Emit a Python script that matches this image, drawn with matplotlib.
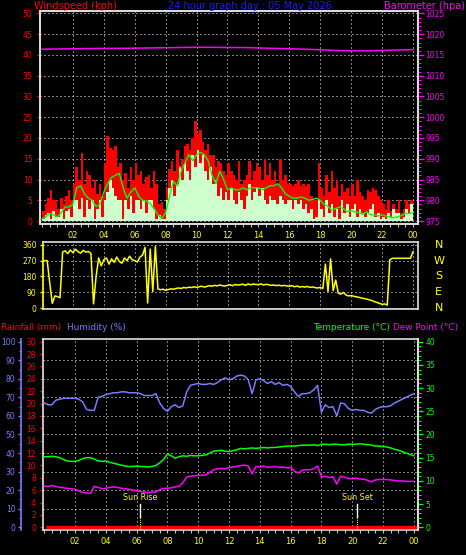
import numpy as np
import matplotlib
matplotlib.use("Agg")
import matplotlib.pyplot as plt
from matplotlib.ticker import MultipleLocator, FixedLocator

plt.rcParams['font.family'] = ['DejaVu Sans']

# ---------------- data ----------------
title_text = "24 hour graph day : 05 May 2026"
hour_ticks = [2, 4, 6, 8, 10, 12, 14, 16, 18, 20, 22, 24]
hour_labels = ["02", "04", "06", "08", "10", "12", "14", "16", "18", "20", "22", "00"]

wind_step_min = 10
wind_gust = [2.5, 4, 5.5, 7.5, 5, 5,
             3, 5.5, 4, 6, 7.5, 5,
             9, 13, 10, 16.5, 9, 12,
             11, 8, 10, 6.5, 9, 6,
             14, 20.5, 17.5, 17, 18, 13,
             14, 10, 11.5, 8, 13, 10,
             14, 11, 12, 9, 10.5, 11,
             8, 12, 9, 4, 4.5, 3,
             8, 12.5, 14.5, 12, 17, 13.5,
             15, 18, 18.5, 17, 20, 24,
             21, 22, 19, 17, 18.5, 16,
             16, 13, 14.5, 14, 12, 11,
             14, 12, 11, 10, 14.5, 9,
             10, 11, 14.5, 10, 12, 14,
             13, 10, 15, 11, 14, 10,
             12, 9, 15, 10, 11, 9,
             9, 8.5, 9, 10, 8.5, 9,
             8.5, 9, 6, 5, 5, 14,
             8, 6, 11, 7, 12, 8,
             10, 6, 9, 7, 8, 6,
             9, 6, 10, 7, 6, 5,
             7.5, 7, 8, 7.5, 6, 5,
             4, 3, 5, 2.5, 4, 3,
             5, 2, 3, 5, 4, 5]
wind_avg = [0.5, 1.5, 2, 0.5, 2.5, 1,
            1, 3, 0.5, 2.5, 3, 1,
            5, 5, 3, 5.5, 1, 5,
            3, 5, 0.5, 3, 5, 1,
            5, 7, 10, 8, 6, 5,
            5, 0.5, 5, 3, 6, 2,
            5, 5, 3, 5, 2, 5,
            5, 3, 0.5, 1.5, 0.5, 0.5,
            5, 8, 10, 6, 9, 13,
            10, 14, 12, 10, 16, 13,
            17, 14, 16, 12, 10, 13,
            9, 10, 6, 8, 5, 7,
            5, 8, 5, 4, 7, 5,
            3, 6, 9, 5, 7, 8,
            6, 8, 5, 4, 6, 5,
            5, 4, 6, 5, 4, 5,
            5, 3, 5, 4, 5, 3,
            4, 2, 3, 0.5, 1, 5,
            3, 1, 5, 2, 4, 1,
            3, 0.5, 5, 2, 4, 1,
            3, 4, 1, 3, 2, 1,
            2, 3, 4, 1, 2, 0.5,
            1, 0.5, 2, 1, 3, 2,
            2, 0.5, 1, 3, 2, 4]
trend_step_min = 15
wind_trend = [0.5, 1, 1.8, 1.5,
              1, 2, 3.4, 3.4,
              4, 8, 8.5, 6.5,
              5.5, 5, 3.5, 4,
              7, 9, 10.5, 11,
              11.5, 8, 5.5, 7,
              8, 6, 5, 4.8,
              4.2, 3, 1.5, 0.6,
              2, 6, 9.5, 8.5,
              12, 14, 16, 14.5,
              16, 16.5, 16, 14.5,
              11, 9, 12, 10,
              7.5, 8, 7.5, 7.5,
              8, 7.5, 8, 8,
              8, 7.5, 8, 8.5,
              8.5, 9, 8, 6.5,
              6, 5.5, 5.5, 5.8,
              5.5, 5, 5.2, 5.5,
              5, 4, 3.5, 2.6,
              3, 3.4, 3, 2.2,
              2.5, 2.2, 2, 1.6,
              2.2, 1.5, 1.5, 1.2,
              1.5, 1.2, 1, 0.8,
              1, 1.3, 1.8, 1.8,
              2.0]
baro_hours = [0, 1, 2, 3, 4, 5, 6, 7, 8, 9, 10, 11, 12,
              13, 14, 15, 16, 17, 18, 19, 20, 21, 22, 23, 24]
baro_hpa = [1016.4, 1016.45, 1016.5, 1016.55, 1016.6, 1016.6, 1016.65, 1016.7,
            1016.75, 1016.8, 1016.85, 1016.85, 1016.8, 1016.8, 1016.7, 1016.6,
            1016.5, 1016.4, 1016.25, 1016.1, 1016.0, 1016.0, 1016.1, 1016.2, 1016.3]

dir_step_min = 10
wind_dir = [270, 270, 270, 145, 28, 70,
            66, 60, 318, 325, 310, 330,
            315, 335, 320, 312, 328, 318,
            322, 310, 25, 180, 285, 240,
            275, 285, 250, 280, 260, 290,
            265, 255, 285, 270, 295, 275,
            270, 262, 290, 300, 345, 30,
            335, 95, 350, 110, 105, 108,
            102, 106, 110, 108, 112, 115,
            112, 118, 115, 120, 117, 122,
            118, 122, 125, 120, 124, 128,
            125, 130, 127, 132, 128, 126,
            130, 133, 128, 135, 131, 134,
            136, 130, 138, 133, 137, 135,
            134, 138, 132, 136, 133, 130,
            132, 128, 131, 127, 130, 126,
            125, 128, 122, 126, 120, 123,
            120, 124, 118, 121, 117, 115,
            118, 112, 250, 95, 280, 100,
            160, 85, 80, 90, 75, 70,
            72, 68, 65, 62, 58, 55,
            52, 48, 44, 38, 33, 28,
            22, 25, 18, 275, 283, 283,
            283, 283, 283, 283, 283, 283,
            320]
compass_labels = ["N", "W", "S", "E", "N"]
compass_deg = [360, 270, 180, 90, 0]

thp_step_min = 15
humidity = [67, 66, 66, 68.5,
            69, 69.5, 69.5, 69.5,
            69.5, 69, 67.5, 63.5,
            63, 63, 70, 70.5,
            71.5, 72, 72.5, 72.5,
            73, 73, 72.5, 72.5,
            72.5, 72, 71, 71,
            71, 72, 67, 64,
            62.5, 65, 66, 64.5,
            65.5, 73, 76.5, 77,
            77.5, 77, 77, 77.5,
            77, 78, 79.5, 80.5,
            79.5, 80, 81.5, 82,
            81.5, 79.5, 72, 79.5,
            80, 79, 77.5, 78.5,
            77, 78, 76.5, 77,
            76, 73, 70.5, 72,
            72, 72.5, 74, 76.5,
            62, 66, 64.5, 65,
            60, 67, 66.5, 64,
            63, 63.5, 63, 63,
            62, 61.5, 63.5, 64.5,
            65, 65, 65.5, 67,
            68, 69, 70, 71,
            72]
temperature = [15.2, 15.2, 15.3, 15.2,
               15.0, 14.6, 14.3, 14.2,
               14.2, 14.4, 14.8, 15.0,
               15.0, 14.7, 14.3, 14.2,
               14.3, 14.0, 13.8, 13.6,
               13.4, 13.2, 13.1, 13.1,
               13.2, 13.1, 13.1, 13.0,
               13.1, 13.3, 13.9, 14.6,
               15.8, 15.4, 14.9, 15.2,
               15.4, 15.3, 15.5, 15.4,
               15.4, 15.5, 15.6, 16.0,
               16.4, 16.5, 16.6, 16.4,
               16.3, 16.5, 16.7, 17.0,
               16.9, 17.0, 17.1, 17.0,
               17.1, 17.2, 17.1, 17.2,
               17.2, 17.3, 17.4, 17.5,
               17.5, 17.5, 17.6, 17.7,
               17.7, 17.7, 17.8, 17.6,
               17.9, 17.9, 17.8, 17.9,
               17.9, 17.8, 17.8, 17.9,
               17.9, 17.9, 18.0, 17.9,
               17.8, 17.7, 17.5, 17.5,
               17.4, 17.3, 17.1, 16.8,
               16.6, 16.3, 16.0, 15.7,
               15.4]
dew_point = [8.9, 8.8, 9.0, 8.8,
             8.6, 8.5, 8.4, 8.3,
             8.2, 7.8, 7.5, 7.4,
             7.3, 8.8, 8.6, 8.3,
             8.4, 8.6, 8.7, 8.6,
             8.4, 8.3, 8.2, 8.0,
             7.9, 7.7, 7.6, 7.5,
             7.6, 7.6, 8.1, 8.4,
             8.4, 8.5, 8.7, 8.8,
             9.6, 10.8, 11.0, 11.1,
             11.2, 11.2, 11.3, 11.8,
             12.4, 12.6, 12.7, 12.6,
             12.9, 13.0, 13.1, 13.3,
             13.4, 13.2, 11.5, 13.1,
             13.0, 13.2, 12.9, 13.0,
             13.1, 12.9, 13.0, 12.8,
             12.9, 12.1, 11.7, 12.3,
             12.4, 12.4, 12.6, 13.2,
             10.8, 11.0, 10.7, 10.9,
             9.3, 11.0, 10.8, 10.5,
             10.5, 10.6, 10.4, 10.4,
             10.1, 9.8, 10.2, 10.3,
             10.3, 10.3, 10.2, 10.1,
             10.0, 10.0, 9.9, 9.9,
             9.9]
rain_hours = [0.1, 24.3]
rain_mm = [0.0, 0.0]
sun_labels = ["Sun Rise", "Sun Set"]
sun_hours = [6.25, 20.33]
humidity_grid = [10, 20, 30, 40, 50, 60, 70, 80, 90]

# ---------------- style ----------------
RED = '#ff0000'
PALE = '#ccffcc'
GREEN = '#00ff00'
MAG = '#ff00ff'
YEL = '#ffff00'
HUM = '#7b7bff'
BLUE = '#1a1aff'
FRAME = '#e0e0e0'
TICKC = '#c8c8c8'
DOT = (0, (1, 3))
PX = 0.72

W, H = 466, 555


def rect(l, t, r, b):
    return [l / W, 1 - b / H, (r - l) / W, (b - t) / H]


def frame(ax):
    ax.set_facecolor('black')
    for s in ax.spines.values():
        s.set_color(FRAME)
        s.set_linewidth(1.2)


fig = plt.figure(figsize=(W / 100, H / 100), dpi=100, facecolor='black')

# ---------------- top panel: wind & barometer ----------------
ax1 = fig.add_axes(rect(39.5, 10.7, 417.5, 224))
frame(ax1)
ax1.set_xlim(-0.16, 24.29)
ax1.set_ylim(-0.72, 50.67)
t_w = np.arange(len(wind_gust) + 1) * wind_step_min / 60
ax1.fill_between(t_w, 0, wind_gust + [wind_gust[-1]], step='post', color=RED, lw=0, zorder=2)
ax1.fill_between(t_w, 0, wind_avg + [wind_avg[-1]], step='post', color=PALE, lw=0, zorder=3)
t_tr = np.arange(len(wind_trend)) * trend_step_min / 60
ax1.plot(t_tr, wind_trend, color=GREEN, lw=1.0, zorder=4)
ax1.set_axisbelow(True)
ax1.xaxis.set_major_locator(FixedLocator(hour_ticks))
ax1.xaxis.set_minor_locator(MultipleLocator(0.5))
ax1.set_xticklabels(hour_labels)
ax1.yaxis.set_major_locator(MultipleLocator(5))
ax1.yaxis.set_minor_locator(MultipleLocator(1))
ax1.grid(True, which='major', color='white', linestyle=DOT, linewidth=PX)
ax1.tick_params(axis='x', which='both', direction='out', color=TICKC, length=2.2,
                width=0.8, labelcolor=YEL, labelsize=6, pad=3.2)
ax1.tick_params(axis='y', which='major', color=RED, length=2.5, width=1,
                labelcolor=RED, labelsize=5.5, pad=2.5)
ax1.tick_params(axis='y', which='minor', color=RED, length=0.9, width=0.8)

ax1b = ax1.twinx()
frame(ax1b)
ax1b.patch.set_visible(False)
ax1b.set_ylim(975 - 0.72, 975 + 50.67)
ax1b.plot(baro_hours, baro_hpa, color=MAG, lw=1.1, zorder=5)
ax1b.yaxis.set_major_locator(MultipleLocator(5))
ax1b.yaxis.set_minor_locator(MultipleLocator(1))
ax1b.tick_params(axis='y', which='major', color=MAG, length=4, width=1,
                 labelcolor=MAG, labelsize=5.5, pad=1.4)
ax1b.tick_params(axis='y', which='minor', color=MAG, length=2, width=0.8)

# ---------------- wind direction panel ----------------
ax2 = fig.add_axes(rect(43, 241.7, 417.5, 309.3))
frame(ax2)
ax2.spines['left'].set_color(YEL)
ax2.set_xlim(0.065, 24.29)
ax2.set_ylim(-5.7, 377)
t_d = np.arange(len(wind_dir)) * dir_step_min / 60
ax2.plot(t_d, wind_dir, color=YEL, lw=1.1)
ax2.set_axisbelow(True)
ax2.xaxis.set_major_locator(FixedLocator(hour_ticks))
ax2.yaxis.set_major_locator(FixedLocator(compass_deg))
ax2.yaxis.set_minor_locator(MultipleLocator(22.5))
ax2.grid(True, which='major', color='white', linestyle=DOT, linewidth=PX)
ax2.tick_params(axis='x', bottom=False, labelbottom=False)
ax2.tick_params(axis='y', which='major', color=YEL, length=2.2, width=1,
                labelcolor=YEL, labelsize=5.5, pad=2.4)
ax2.tick_params(axis='y', which='minor', color=YEL, length=1.0, width=0.8)
for lab, d in zip(compass_labels, compass_deg):
    ax2.text(1.057, d, lab, transform=ax2.get_yaxis_transform(), color=YEL,
             fontsize=8, ha='center', va='center')

# ---------------- bottom panel: rain / humidity / temperature ----------------
ax3 = fig.add_axes(rect(43, 339.3, 417.5, 530))
frame(ax3)
ax3.set_xlim(-0.08, 24.24)
ax3.set_ylim(-0.44, 30.39)
ax3.set_axisbelow(True)
ax3.xaxis.set_major_locator(FixedLocator(hour_ticks))
ax3.xaxis.set_minor_locator(MultipleLocator(0.5))
ax3.set_xticklabels(hour_labels)
ax3.yaxis.set_major_locator(MultipleLocator(2))
ax3.yaxis.set_minor_locator(MultipleLocator(0.5))
ax3.grid(True, axis='x', which='major', color='white', linestyle=DOT, linewidth=PX)
ax3.tick_params(axis='x', which='both', direction='out', color=TICKC, length=2.2,
                width=0.8, labelcolor=YEL, labelsize=6, pad=3.2)
ax3.tick_params(axis='y', which='major', color=RED, length=2.2, width=1,
                labelcolor=RED, labelsize=5.5, pad=2.9)
ax3.tick_params(axis='y', which='minor', color=RED, length=1.0, width=0.8)
ax3.plot(rain_hours, rain_mm, color=RED, lw=2.4, solid_capstyle='butt', zorder=5)

for lab, hh in zip(sun_labels, sun_hours):
    ax3.text(hh, 4.78, lab, color=YEL, fontsize=5.8, ha='center', va='center', zorder=6)
    ax3.plot([hh, hh], [3.76, 1.71], color='white', lw=1.0, zorder=6)
    ax3.plot([hh, hh], [1.71, -0.44], color=YEL, lw=0.8, linestyle=(0, (1, 1)), zorder=6)

t_thp = np.arange(len(humidity)) * thp_step_min / 60

ax3h = ax3.twinx()
ax3h.patch.set_visible(False)
ax3h.set_ylim(-1.47, 101.3)
for s in ['right', 'top', 'bottom']:
    ax3h.spines[s].set_visible(False)
ax3h.spines['left'].set_visible(True)
ax3h.spines['left'].set_position(('outward', 15.5))
ax3h.spines['left'].set_color(HUM)
ax3h.spines['left'].set_linewidth(1.2)
ax3h.yaxis.set_ticks_position('left')
ax3h.yaxis.set_label_position('left')
ax3h.yaxis.set_major_locator(MultipleLocator(10))
ax3h.yaxis.set_minor_locator(MultipleLocator(5))
ax3h.tick_params(axis='y', which='major', color=HUM, length=2.2, width=1,
                 labelcolor=HUM, labelsize=5.5, pad=2.2)
ax3h.tick_params(axis='y', which='minor', color=HUM, length=1.2, width=0.8)
for g in humidity_grid:
    ax3h.axhline(g, color='white', linestyle=DOT, linewidth=PX, zorder=1)
ax3h.plot(t_thp, humidity, color=HUM, lw=1.1, zorder=4)

ax3t = ax3.twinx()
ax3t.patch.set_visible(False)
ax3t.set_ylim(-0.59, 40.52)
for s in ['left', 'top', 'bottom']:
    ax3t.spines[s].set_visible(False)
ax3t.spines['right'].set_color(FRAME)
ax3t.spines['right'].set_linewidth(1.2)
ax3t.yaxis.set_major_locator(MultipleLocator(5))
ax3t.yaxis.set_minor_locator(MultipleLocator(1))
ax3t.tick_params(axis='y', which='major', color=GREEN, length=3.3, width=1,
                 labelcolor=GREEN, labelsize=5.5, pad=2.2)
ax3t.tick_params(axis='y', which='minor', color=GREEN, length=1.8, width=0.8)
ax3t.plot(t_thp, temperature, color=GREEN, lw=1.1, zorder=4)
ax3t.plot(t_thp, dew_point, color=MAG, lw=1.1, zorder=4)

# ---------------- headers ----------------
def ftext(x, y, s, color, size, ha='left'):
    fig.text(x / W, 1 - y / H, s, color=color, fontsize=size, ha=ha, va='center')


ftext(34, 6, "Windspeed (kph)", RED, 7)
ftext(250, 6, title_text, BLUE, 7, ha='center')
ftext(465, 6, "Barometer (hpa)", MAG, 7, ha='right')
ftext(1, 327.5, "Rainfall (mm)", RED, 6.4)
ftext(67, 327.5, "Humidity (%)", HUM, 6.4)
ftext(313, 327.5, "Temperature (°C)", GREEN, 6.4)
ftext(393, 327.5, "Dew Point (°C)", MAG, 6.4)

fig.savefig("out.png", dpi=100, facecolor='black')
